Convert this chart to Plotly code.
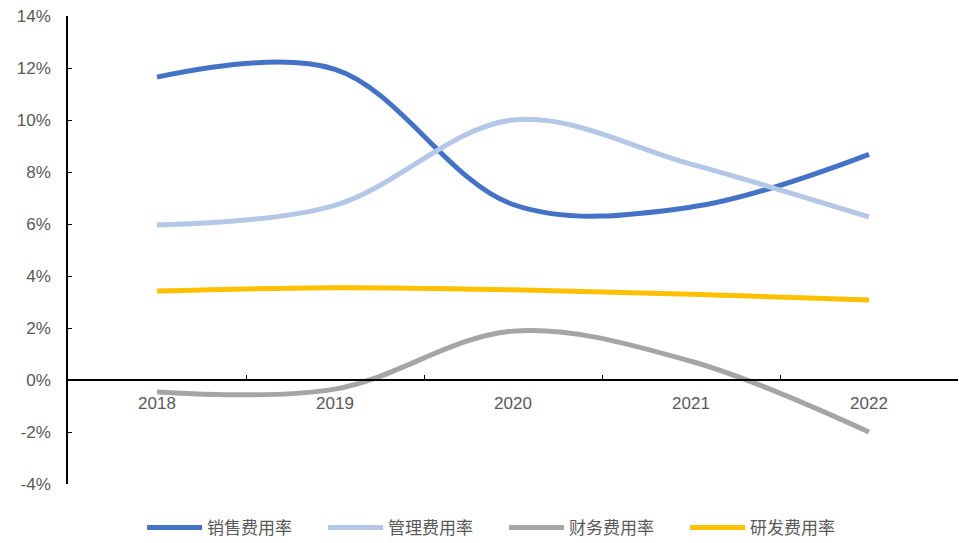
import plotly.graph_objects as go

years = ["2018", "2019", "2020", "2021", "2022"]
sales_rate = [11.65, 11.95, 6.75, 6.65, 8.68]
admin_rate = [5.96, 6.72, 10.0, 8.3, 6.27]
finance_rate = [-0.46, -0.35, 1.88, 0.72, -2.0]
rd_rate = [3.42, 3.55, 3.47, 3.3, 3.08]
y_ticks = [-4, -2, 0, 2, 4, 6, 8, 10, 12, 14]

series = [
    ("销售费用率", sales_rate, "#4472C4"),
    ("管理费用率", admin_rate, "#B4C7E7"),
    ("财务费用率", finance_rate, "#A5A5A5"),
    ("研发费用率", rd_rate, "#FFC000"),
]

y_min, y_max = y_ticks[0], y_ticks[-1]

fig = go.Figure()
for name, vals, color in series:
    fig.add_trace(go.Scatter(
        x=years, y=vals, name=name, mode="lines",
        line=dict(color=color, width=5, shape="spline", smoothing=1.0),
    ))

axis_font = dict(family="Liberation Sans, Arial, sans-serif", size=17, color="#595959")

fig.update_layout(
    width=959, height=543,
    margin=dict(l=68, r=1, t=16, b=59, autoexpand=False),
    paper_bgcolor="white", plot_bgcolor="white",
    showlegend=True,
    legend=dict(
        orientation="h", x=0.49, xanchor="center", y=-0.094, yanchor="middle",
        font=dict(family="Noto Sans CJK SC", size=17, color="#595959"),
        entrywidth=111, itemwidth=55,
    ),
    xaxis=dict(
        type="category", range=[-0.5, len(years) - 0.5],
        anchor="free", position=(0 - y_min) / (y_max - y_min),
        showline=True, linecolor="black", linewidth=1.5,
        ticks="inside", ticklen=4, tickcolor="black", tickson="boundaries",
        showgrid=False, zeroline=False, tickfont=axis_font,
        ticklabelstandoff=8,
    ),
    yaxis=dict(
        range=[y_min, y_max], tickmode="array", tickvals=y_ticks,
        ticktext=[f"{v}%" for v in y_ticks],
        showline=True, linecolor="black", linewidth=1.5,
        ticks="inside", ticklen=4, tickcolor="black",
        showgrid=False, zeroline=False, tickfont=axis_font,
        ticklabelstandoff=12,
    ),
)

fig.write_html("out.html")
